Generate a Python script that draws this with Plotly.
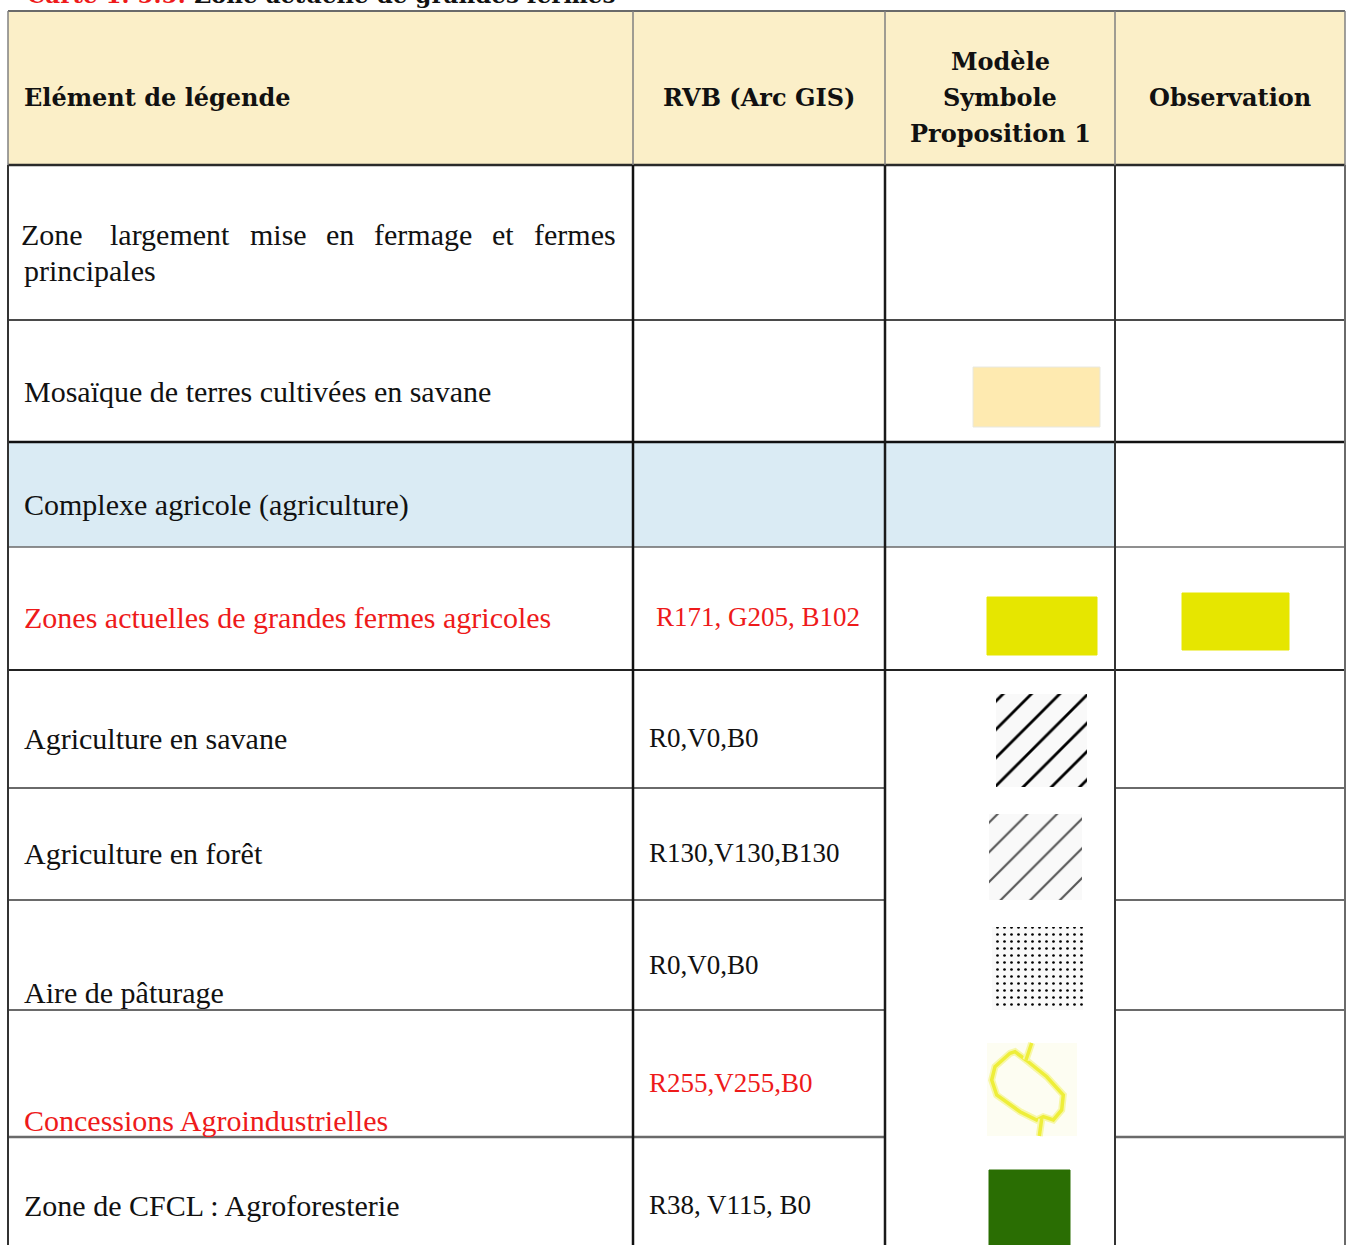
import plotly.graph_objects as go

W, H = 1347, 1245

# ---------------- content ----------------
TITLE_RED = "Carte 1. 5.5:"
TITLE_BLACK = "Zone actuelle de grandes fermes"

HEADERS = ["Elément de légende", "RVB (Arc GIS)", ["Modèle", "Symbole", "Proposition 1"], "Observation"]

ELEMENTS = [
    "Zone largement mise en fermage et fermes principales",
    "Mosaïque de terres cultivées en savane",
    "Complexe agricole (agriculture)",
    "Zones actuelles de grandes fermes agricoles",
    "Agriculture en savane",
    "Agriculture en forêt",
    "Aire de pâturage",
    "Concessions Agroindustrielles",
    "Zone de CFCL : Agroforesterie",
]
ELEMENT_RED = [False, False, False, True, False, False, False, True, False]

RGB_CODES = ["", "", "", "R171, G205, B102", "R0,V0,B0", "R130,V130,B130",
             "R0,V0,B0", "R255,V255,B0", "R38, V115, B0"]
RGB_RED = [False, False, False, True, False, False, False, True, False]

# ---------------- layout geometry ----------------
COL_X = [8, 633, 885, 1115, 1345]
TOP_Y = 11
ROW_Y = [165, 320, 442, 547, 670, 788, 900, 1010, 1137, 1260]

TEXT_Y = [None, 391, 505, 617, 738, 853, 992, 1120, 1205]
RGB_Y = [None, None, None, 617, 738, 853, 965, 1083, 1205]

# justified first row: word centres
ROW1_WORDS = ["Zone", "largement", "mise", "en", "fermage", "et", "fermes"]
ROW1_WORD_X = [52, 170, 278, 340, 423, 503, 575]
ROW1_LINE_Y = [234, 270]

RED = "#EE1A1A"
HEADER_BG = "#FBEFC8"
BLUE_BG = "#DAEBF4"
BODY_FONT = "Liberation Serif"
HEAD_FONT = "DejaVu Serif"
BODY_SIZE = 30
RGB_SIZE = 27
HEAD_SIZE = 24
TEXT_X = 22

fig = go.Figure()

shapes = []
annotations = []

def rect(x0, y0, x1, y1, fill, line_color=None, lw=0, layer="below"):
    shapes.append(dict(type="rect", x0=x0, y0=y0, x1=x1, y1=y1, xref="x", yref="y",
                       fillcolor=fill, line=dict(color=line_color or fill, width=lw), layer=layer))

def hline(x0, x1, y, color, w):
    shapes.append(dict(type="line", x0=x0, x1=x1, y0=y, y1=y, xref="x", yref="y",
                       line=dict(color=color, width=w), layer="above"))

def vline(x, y0, y1, color, w):
    shapes.append(dict(type="line", x0=x, x1=x, y0=y0, y1=y1, xref="x", yref="y",
                       line=dict(color=color, width=w), layer="above"))

# backgrounds
rect(COL_X[0], TOP_Y, COL_X[4], ROW_Y[0], HEADER_BG)
rect(COL_X[0], ROW_Y[2], COL_X[3], ROW_Y[3], BLUE_BG)

# horizontal borders
hline(COL_X[0], COL_X[4], TOP_Y, "#6a6a6a", 2)
H_STYLE = {165: ("#2a2a2a", 2.5), 320: ("#4a4a4a", 2), 442: ("#111111", 2.5),
           547: ("#6a6a6a", 1.5), 670: ("#222222", 2), 788: ("#6a6a6a", 2),
           900: ("#6a6a6a", 2), 1010: ("#6a6a6a", 2), 1137: ("#6a6a6a", 2.5)}
for y, (c, w) in H_STYLE.items():
    if y > 670:  # symbol column is merged below this boundary
        hline(COL_X[0], COL_X[2], y, c, w)
        hline(COL_X[3], COL_X[4], y, c, w)
    else:
        hline(COL_X[0], COL_X[4], y, c, w)

# vertical borders (header thinner/grey)
for x in COL_X:
    vline(x, TOP_Y, ROW_Y[0], "#808080", 1.5)
V_STYLE = {8: ("#333333", 2), 633: ("#111111", 2.5), 885: ("#1a1a1a", 2.5),
           1115: ("#333333", 2), 1345: ("#6a6a6a", 2)}
for x, (c, w) in V_STYLE.items():
    vline(x, ROW_Y[0], H + 20, c, w)

# ---------------- title (clipped at top, as in the source page) ----------------
annotations.append(dict(
    x=25, y=10, xref="x", yref="y", xanchor="left", yanchor="bottom", showarrow=False,
    text=f"<b><span style='color:{RED}'>{TITLE_RED}</span> {TITLE_BLACK}</b>",
    font=dict(family=HEAD_FONT, size=23, color="#111111")))

# ---------------- header text ----------------
HY = 97
hfont = dict(family=HEAD_FONT, size=HEAD_SIZE, color="#111111")
annotations.append(dict(x=TEXT_X, y=HY, xref="x", yref="y", xanchor="left", yanchor="middle",
                        showarrow=False, text=f"<b>{HEADERS[0]}</b>", font=hfont))
annotations.append(dict(x=(COL_X[1] + COL_X[2]) / 2, y=HY, xref="x", yref="y", xanchor="center",
                        yanchor="middle", showarrow=False, text=f"<b>{HEADERS[1]}</b>", font=hfont))
for i, line in enumerate(HEADERS[2]):
    annotations.append(dict(x=(COL_X[2] + COL_X[3]) / 2, y=HY + (i - 1) * 36, xref="x", yref="y",
                            xanchor="center", yanchor="middle", showarrow=False,
                            text=f"<b>{line}</b>", font=hfont))
annotations.append(dict(x=(COL_X[3] + COL_X[4]) / 2, y=HY, xref="x", yref="y", xanchor="center",
                        yanchor="middle", showarrow=False, text=f"<b>{HEADERS[3]}</b>", font=hfont))

# ---------------- body text ----------------
for w, x in zip(ROW1_WORDS, ROW1_WORD_X):
    annotations.append(dict(x=x, y=ROW1_LINE_Y[0], xref="x", yref="y", xanchor="center",
                            yanchor="middle", showarrow=False, text=w,
                            font=dict(family=BODY_FONT, size=BODY_SIZE, color="#111111")))
annotations.append(dict(x=TEXT_X, y=ROW1_LINE_Y[1], xref="x", yref="y", xanchor="left",
                        yanchor="middle", showarrow=False, text="principales",
                        font=dict(family=BODY_FONT, size=BODY_SIZE, color="#111111")))

for i in range(1, len(ELEMENTS)):
    annotations.append(dict(x=TEXT_X, y=TEXT_Y[i], xref="x", yref="y", xanchor="left",
                            yanchor="middle", showarrow=False, text=ELEMENTS[i],
                            font=dict(family=BODY_FONT, size=BODY_SIZE,
                                      color=RED if ELEMENT_RED[i] else "#111111")))

for i, code in enumerate(RGB_CODES):
    if not code:
        continue
    centred = i == 3
    annotations.append(dict(x=758 if centred else 647, y=RGB_Y[i], xref="x", yref="y",
                            xanchor="center" if centred else "left", yanchor="middle",
                            showarrow=False, text=code,
                            font=dict(family=BODY_FONT, size=RGB_SIZE,
                                      color=RED if RGB_RED[i] else "#111111")))

# ---------------- symbols ----------------
# solid swatches: (x0, y0, x1, y1, colour)
SWATCH_PEACH = (973, 367, 1100, 427, "#FEEAB0")
SWATCH_YELLOW_SYM = (987, 597, 1097, 655, "#E6E600")
SWATCH_YELLOW_OBS = (1182, 593, 1289, 650, "#E6E600")
SWATCH_GREEN = (989, 1170, 1070, 1260, "#2A6E03")
for x0, y0, x1, y1, c in [SWATCH_PEACH, SWATCH_YELLOW_SYM, SWATCH_YELLOW_OBS, SWATCH_GREEN]:
    rect(x0, y0, x1, y1, c, line_color="#E8E8E0" if c == "#FEEAB0" else c, lw=1, layer="above")

# pattern swatches: (x0, y0, x1, y1, shape, fg, size, solidity)
PATTERNS = [
    (996, 694, 1087, 787, "/", "#000000", 20, 0.14),
    (989, 814, 1082, 900, "/", "#555555", 21, 0.10),
    (992, 927, 1083, 1010, ".", "#000000", 7, 0.12),
]
for x0, y0, x1, y1, shp, fg, sz, sol in PATTERNS:
    fig.add_trace(go.Scatter(
        x=[x0, x1, x1, x0, x0], y=[y0, y0, y1, y1, y0], mode="lines", fill="toself",
        line=dict(width=0), fillcolor="#F8F8F8", hoverinfo="skip", showlegend=False,
        fillpattern=dict(shape=shp, fgcolor=fg, fgopacity=1, bgcolor="#F9F9F9",
                         size=sz, solidity=sol)))

# concession outline icon
CONC_LOOP_X = [1026, 1015, 1010, 995, 991.7, 996.7, 1020, 1036.7, 1043.3, 1053.3, 1061.7, 1063.3, 1046.7, 1026]
CONC_LOOP_Y = [1060, 1051.7, 1053.3, 1066.7, 1080, 1095, 1111.7, 1120, 1116.7, 1120, 1110, 1095, 1076.7, 1060]
CONC_STEM1_X = [1031.7, 1026]
CONC_STEM1_Y = [1043, 1060]
CONC_STEM2_X = [1041.7, 1039.3]
CONC_STEM2_Y = [1119, 1136]
rect(987, 1043, 1077, 1136, "#FDFDF2", layer="below")
for xs, ys in [(CONC_LOOP_X, CONC_LOOP_Y), (CONC_STEM1_X, CONC_STEM1_Y), (CONC_STEM2_X, CONC_STEM2_Y)]:
    fig.add_trace(go.Scatter(x=xs, y=ys, mode="lines", line=dict(color="#F7F7A8", width=7),
                             hoverinfo="skip", showlegend=False))
    fig.add_trace(go.Scatter(x=xs, y=ys, mode="lines", line=dict(color="#EEEE3A", width=3.5),
                             hoverinfo="skip", showlegend=False))

fig.update_layout(
    width=W, height=H, margin=dict(l=0, r=0, t=0, b=0),
    paper_bgcolor="white", plot_bgcolor="white",
    xaxis=dict(range=[0, W], visible=False, fixedrange=True),
    yaxis=dict(range=[H, 0], visible=False, fixedrange=True),
    shapes=shapes, annotations=annotations, showlegend=False,
)

fig.write_html("out.html", config={"displayModeBar": False},
               post_script="document.body.style.margin='0';document.body.style.overflow='hidden';")
